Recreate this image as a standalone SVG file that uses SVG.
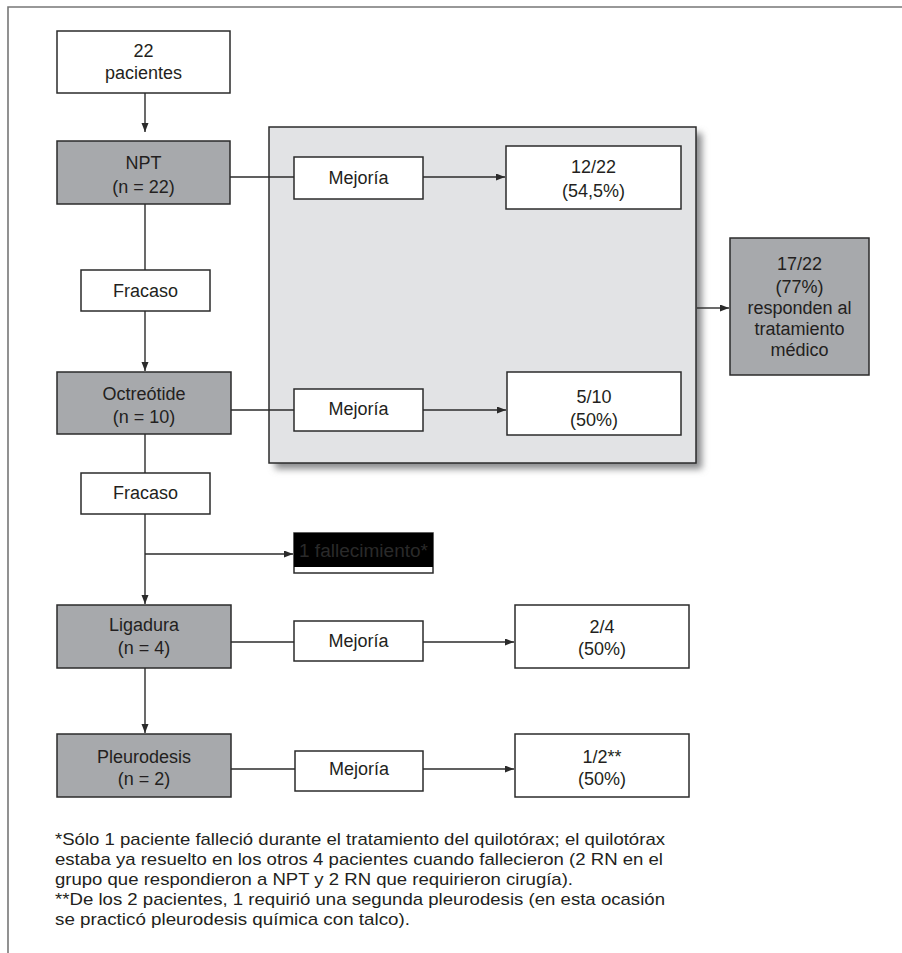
<svg xmlns="http://www.w3.org/2000/svg" width="902" height="953" viewBox="0 0 902 953">
<defs>
<style>
.t{font-family:"Liberation Sans",Arial,Helvetica,sans-serif;font-size:18px;fill:#231f20;text-anchor:middle}
.fn{font-family:"Liberation Sans",Arial,Helvetica,sans-serif;font-size:17px;fill:#231f20}
.w{fill:#ffffff;stroke:#2b2b2b;stroke-width:1.5}
.g{fill:#a7a9ac;stroke:#2b2b2b;stroke-width:1.5}
.c{fill:none;stroke:#2b2b2b;stroke-width:1.4}
.a{marker-end:url(#ah)}
</style>
<marker id="ah" markerUnits="userSpaceOnUse" markerWidth="10" markerHeight="8" refX="9" refY="3.5" orient="auto">
<path d="M0,0 L9,3.5 L0,7 z" fill="#2b2b2b"/>
</marker>
<filter id="sh" x="-10%" y="-10%" width="130%" height="130%">
<feGaussianBlur stdDeviation="3.5"/>
</filter>
</defs>
<rect width="902" height="953" fill="#ffffff"/>
<g id="frame">
<path d="M8,953 L8,7 L902,7" fill="none" stroke="#777777" stroke-width="1.6"/>
</g>
<g id="panel">
<rect x="275" y="133" width="427" height="336" fill="#8a8b8d" filter="url(#sh)"/>
<rect x="269" y="127" width="427" height="336" fill="#e2e3e5" stroke="#2b2b2b" stroke-width="1.5"/>
</g>
<g id="connectors">
<line class="c a" x1="145" y1="93" x2="145" y2="132"/>
<line class="c" x1="145" y1="204" x2="145" y2="270"/>
<line class="c a" x1="145" y1="311" x2="145" y2="371"/>
<line class="c" x1="145" y1="434" x2="145" y2="473"/>
<line class="c a" x1="145" y1="514" x2="145" y2="604"/>
<line class="c a" x1="145" y1="554" x2="293" y2="554"/>
<line class="c a" x1="145" y1="668" x2="145" y2="733"/>
<line class="c" x1="230" y1="177" x2="294" y2="177"/>
<line class="c a" x1="423" y1="177" x2="505" y2="177"/>
<line class="c" x1="230" y1="410" x2="294" y2="410"/>
<line class="c a" x1="423" y1="410" x2="506" y2="410"/>
<line class="c a" x1="697" y1="308" x2="729" y2="308"/>
<line class="c" x1="231" y1="642" x2="294" y2="642"/>
<line class="c a" x1="423" y1="642" x2="514" y2="642"/>
<line class="c" x1="231" y1="769" x2="295" y2="769"/>
<line class="c a" x1="423" y1="769" x2="514" y2="769"/>
</g>
<g id="n-pacientes">
<rect class="w" x="57" y="31" width="173" height="62"/>
<text class="t" x="143.5" y="56.5">22</text>
<text class="t" x="143.5" y="79">pacientes</text>
</g>
<g id="n-npt">
<rect class="g" x="57" y="141" width="173" height="63"/>
<text class="t" x="143.5" y="169">NPT</text>
<text class="t" x="143.5" y="193">(n = 22)</text>
</g>
<g id="n-mejoria1">
<rect class="w" x="294" y="157" width="129" height="42"/>
<text class="t" x="358.5" y="184">Mejoría</text>
</g>
<g id="n-1222">
<rect class="w" x="506" y="146" width="175" height="63"/>
<text class="t" x="593.5" y="173">12/22</text>
<text class="t" x="593.5" y="197">(54,5%)</text>
</g>
<g id="n-fracaso1">
<rect class="w" x="81" y="270" width="129" height="41"/>
<text class="t" x="145.5" y="297">Fracaso</text>
</g>
<g id="n-octreotide">
<rect class="g" x="57" y="372" width="174" height="62"/>
<text class="t" x="144" y="400">Octreótide</text>
<text class="t" x="144" y="423">(n = 10)</text>
</g>
<g id="n-mejoria2">
<rect class="w" x="294" y="389" width="129" height="42"/>
<text class="t" x="358.5" y="415">Mejoría</text>
</g>
<g id="n-510">
<rect class="w" x="507" y="372" width="174" height="63"/>
<text class="t" x="594" y="403">5/10</text>
<text class="t" x="594" y="426">(50%)</text>
</g>
<g id="n-1722">
<rect class="g" x="730" y="238" width="139" height="137"/>
<text class="t" x="799.5" y="270">17/22</text>
<text class="t" x="799.5" y="293">(77%)</text>
<text class="t" x="799.5" y="314">responden al</text>
<text class="t" x="799.5" y="335">tratamiento</text>
<text class="t" x="799.5" y="356">médico</text>
</g>
<g id="n-fracaso2">
<rect class="w" x="81" y="473" width="129" height="41"/>
<text class="t" x="145.5" y="499">Fracaso</text>
</g>
<g id="n-fallecimiento">
<rect class="w" x="294" y="533" width="139" height="40"/>
<rect x="294" y="533" width="139" height="34" fill="#000000"/>
<text class="t" x="363.5" y="557" style="fill:#2a2a2a" textLength="129" lengthAdjust="spacingAndGlyphs">1 fallecimiento*</text>
</g>
<g id="n-ligadura">
<rect class="g" x="57" y="605" width="174" height="63"/>
<text class="t" x="144" y="631">Ligadura</text>
<text class="t" x="144" y="654">(n = 4)</text>
</g>
<g id="n-mejoria3">
<rect class="w" x="294" y="621" width="129" height="40"/>
<text class="t" x="358.5" y="647">Mejoría</text>
</g>
<g id="n-24">
<rect class="w" x="515" y="605" width="174" height="63"/>
<text class="t" x="602" y="633">2/4</text>
<text class="t" x="602" y="655">(50%)</text>
</g>
<g id="n-pleurodesis">
<rect class="g" x="57" y="734" width="174" height="63"/>
<text class="t" x="144" y="763">Pleurodesis</text>
<text class="t" x="144" y="785">(n = 2)</text>
</g>
<g id="n-mejoria4">
<rect class="w" x="295" y="751" width="128" height="40"/>
<text class="t" x="359" y="775">Mejoría</text>
</g>
<g id="n-12">
<rect class="w" x="515" y="734" width="174" height="63"/>
<text class="t" x="602" y="763">1/2**</text>
<text class="t" x="602" y="785">(50%)</text>
</g>
<g id="footnotes">
<text class="fn" x="55" y="845" textLength="610" lengthAdjust="spacingAndGlyphs">*Sólo 1 paciente falleció durante el tratamiento del quilotórax; el quilotórax</text>
<text class="fn" x="55" y="865" textLength="608" lengthAdjust="spacingAndGlyphs">estaba ya resuelto en los otros 4 pacientes cuando fallecieron (2 RN en el</text>
<text class="fn" x="55" y="885" textLength="518" lengthAdjust="spacingAndGlyphs">grupo que respondieron a NPT y 2 RN que requirieron cirugía).</text>
<text class="fn" x="55" y="905" textLength="610" lengthAdjust="spacingAndGlyphs">**De los 2 pacientes, 1 requirió una segunda pleurodesis (en esta ocasión</text>
<text class="fn" x="55" y="925" textLength="355" lengthAdjust="spacingAndGlyphs">se practicó pleurodesis química con talco).</text>
</g>
</svg>
